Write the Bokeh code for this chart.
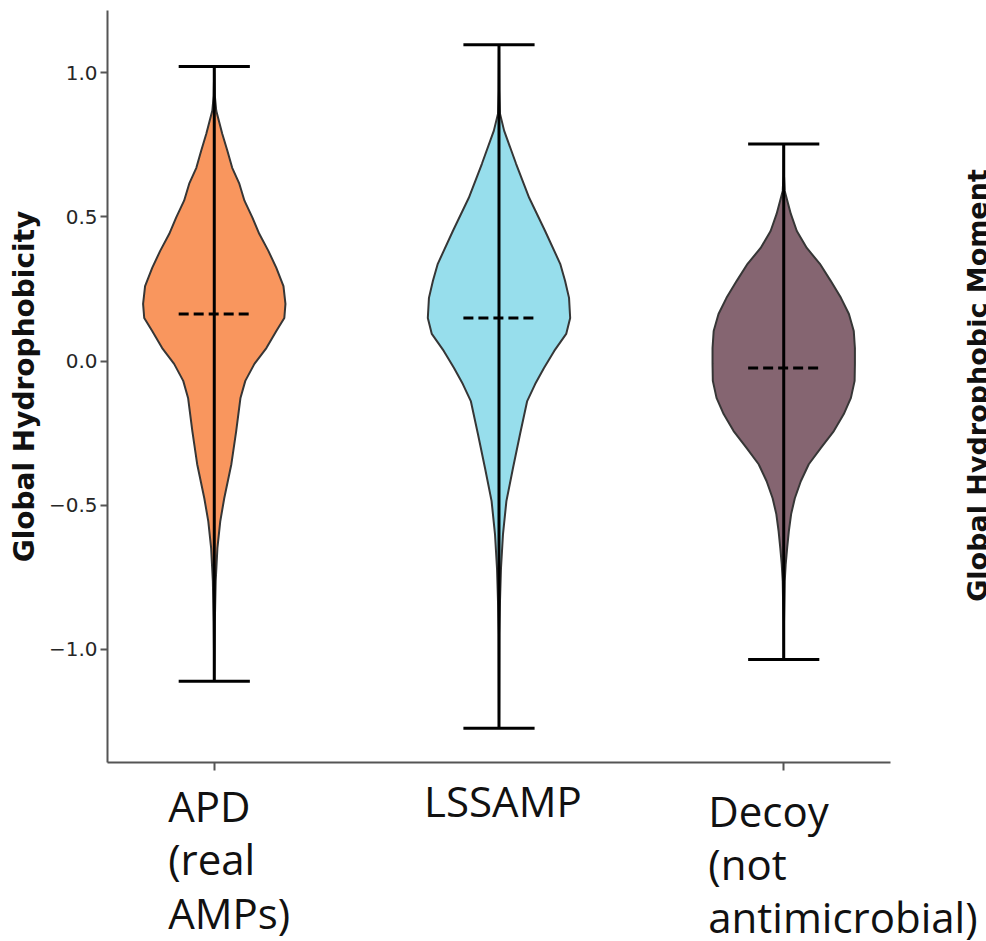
import math
from bokeh.plotting import figure
from bokeh.models import Range1d, FixedTicker, CustomJSTickFormatter
from bokeh.core.properties import value
from bokeh.embed import file_html
from bokeh.resources import INLINE

# ---- data ----
categories = ["APD\n(real\nAMPs)", "LSSAMP", "Decoy\n(not\nantimicrobial)"]
positions = [1, 2, 3]
data_min = [-1.111, -1.274, -1.035]
data_max = [1.021, 1.097, 0.753]
data_mean = [0.163, 0.149, -0.024]

# violin outlines: value levels and half-widths (density scaled to max 0.25)
apd_y = [1.021, 0.920, 0.868, 0.788, 0.729, 0.670, 0.615, 0.556, 0.497, 0.441,
         0.382, 0.323, 0.260, 0.198, 0.149, 0.104, 0.045, -0.010, -0.069, -0.128,
         -0.243, -0.358, -0.476, -0.556, -0.649, -0.764, -0.903, -1.111]
apd_hw = [0.0, 0.002, 0.007, 0.028, 0.046, 0.063, 0.088, 0.106, 0.134, 0.158,
          0.190, 0.218, 0.243, 0.250, 0.246, 0.218, 0.183, 0.141, 0.109, 0.092,
          0.077, 0.060, 0.035, 0.021, 0.011, 0.005, 0.002, 0.0]

lss_y = [1.097, 0.938, 0.858, 0.799, 0.684, 0.566, 0.451, 0.337, 0.278, 0.219,
         0.149, 0.094, 0.035, -0.024, -0.080, -0.139, -0.253, -0.372, -0.486,
         -0.601, -0.719, -0.833, -0.948, -1.274]
lss_hw = [0.0, 0.001, 0.0035, 0.018, 0.060, 0.106, 0.162, 0.215, 0.232, 0.246,
          0.250, 0.236, 0.194, 0.158, 0.127, 0.099, 0.074, 0.049, 0.026,
          0.014, 0.007, 0.0035, 0.001, 0.0]

dec_y = [0.753, 0.642, 0.590, 0.510, 0.451, 0.392, 0.337, 0.278, 0.219, 0.163,
         0.104, 0.045, -0.010, -0.069, -0.128, -0.184, -0.243, -0.302, -0.358,
         -0.417, -0.476, -0.531, -0.590, -0.649, -0.705, -0.764, -0.903, -1.035]
dec_hw = [0.0, 0.001, 0.0035, 0.025, 0.046, 0.081, 0.127, 0.165, 0.201, 0.229,
          0.246, 0.250, 0.250, 0.249, 0.236, 0.211, 0.176, 0.130, 0.088,
          0.060, 0.039, 0.026, 0.018, 0.012, 0.007, 0.0035, 0.001, 0.0]

y_ticks = [-1.0, -0.5, 0.0, 0.5, 1.0]
neighbour_title = "Global Hydrophobic Moment"

# ---- layout / styles ----
ax_x = (0.625, 3.375)        # visible x extent of the axes box
ax_y = (-1.3926, 1.2156)     # visible y extent of the axes box
colors = ["#F9965E", "#97DEEC", "#856571"]
profiles = [(apd_y, apd_hw), (lss_y, lss_hw), (dec_y, dec_hw)]

p = figure(width=986, height=941, output_backend="svg", toolbar_location=None,
           x_range=Range1d(0.2492, 3.7122), y_range=Range1d(-2.0133, 1.2503),
           min_border=0, title=None)
p.background_fill_color = "white"
p.border_fill_color = "white"
p.outline_line_color = None
p.xgrid.visible = False
p.ygrid.visible = False

# violin bodies
xs, ys = [], []
for pos, (vy, vhw) in zip(positions, profiles):
    right = [pos + h for h in vhw]
    left = [pos - h for h in reversed(vhw)]
    xs.append(right + left)
    ys.append(list(vy) + list(reversed(vy)))
p.patches(xs, ys, fill_color=colors, fill_alpha=1.0,
          line_color="#363636", line_width=2)

# center bars, caps, means
cap = 0.125
p.segment(x0=positions, y0=data_min, x1=positions, y1=data_max,
          line_color="black", line_width=3)
p.segment(x0=[q - cap for q in positions], y0=data_max,
          x1=[q + cap for q in positions], y1=data_max,
          line_color="black", line_width=3)
p.segment(x0=[q - cap for q in positions], y0=data_min,
          x1=[q + cap for q in positions], y1=data_min,
          line_color="black", line_width=3)
p.segment(x0=[q - cap for q in positions], y0=data_mean,
          x1=[q + cap for q in positions], y1=data_mean,
          line_color="black", line_width=3, line_dash="10 5")

# axes (placed at the edges of the axes box)
spine = "#555555"
yax = p.yaxis[0]
yax.fixed_location = ax_x[0]
yax.bounds = ax_y
yax.ticker = FixedTicker(ticks=y_ticks)
yax.formatter = CustomJSTickFormatter(
    code="return (tick < 0 ? '\u2212' : '') + Math.abs(tick).toFixed(1);")
yax.major_label_text_font = "DejaVu Sans"
yax.major_label_text_font_size = "20px"
yax.major_label_text_color = "#262626"
yax.major_tick_out = 7
yax.major_tick_in = 0
yax.minor_tick_line_color = None
yax.major_label_standoff = 3
yax.axis_line_color = spine
yax.axis_line_width = 2
yax.major_tick_line_color = spine
yax.major_tick_line_width = 2
yax.axis_label = "Global Hydrophobicity"
yax.axis_label_text_font = "DejaVu Sans"
yax.axis_label_text_font_style = "bold"
yax.axis_label_text_font_size = "28px"
yax.axis_label_text_color = "#111111"
yax.axis_label_standoff = 5

xax = p.xaxis[0]
xax.fixed_location = ax_y[0]
xax.bounds = ax_x
xax.ticker = FixedTicker(ticks=[positions[0], positions[2]])
xax.formatter = CustomJSTickFormatter(code="return '';")
xax.major_tick_out = 8
xax.major_tick_in = 0
xax.minor_tick_line_color = None
xax.axis_line_color = spine
xax.axis_line_width = 2
xax.major_tick_line_color = spine
xax.major_tick_line_width = 2

# category labels (overlaid text boxes in the reference)
label_x = [0.838, 1.737, 2.735]
label_y = [-1.4445, -1.4265, -1.461]
p.text(x=label_x, y=label_y, text=categories, text_font=value("Open Sans"),
       text_font_size="42px", text_color="#111111", text_align="left",
       text_baseline="top", text_line_height=0.93)

# cut-off axis title of the neighbouring panel
p.text(x=[3.68], y=[-0.085], text=[neighbour_title], angle=math.pi / 2,
       text_font=value("DejaVu Sans"), text_font_style="bold",
       text_font_size="27px", text_color="#111111", text_align="center",
       text_baseline="alphabetic")

open("out.html", "w").write(file_html(p, INLINE))
